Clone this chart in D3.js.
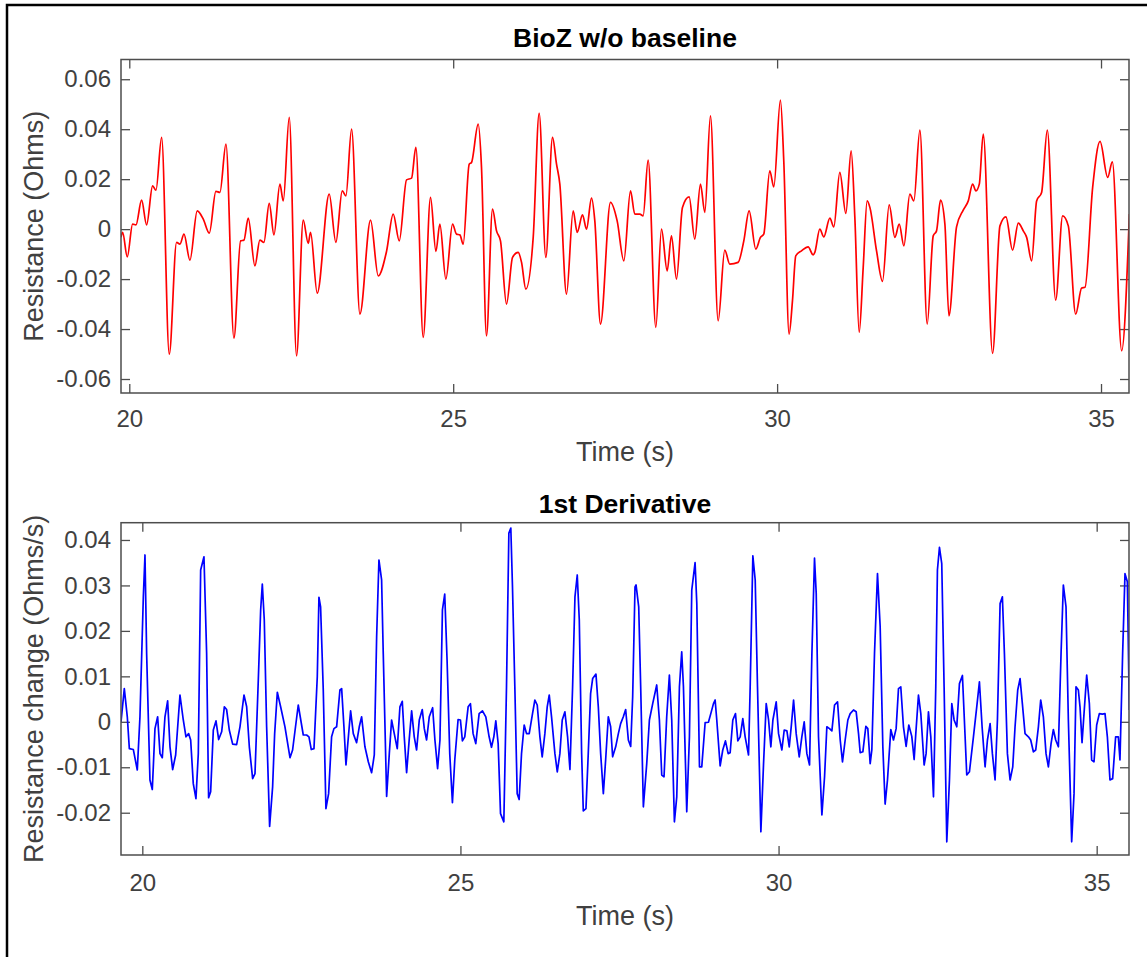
<!DOCTYPE html>
<html>
<head>
<meta charset="utf-8">
<script src="https://cdn.jsdelivr.net/npm/d3@7"></script>
<style>
  body { margin: 0; background: #fff; }
  svg text { font-family: "Liberation Sans", Arial, Helvetica, sans-serif; }
</style>
</head>
<body>
<svg id="chart" width="1147" height="957"></svg>
<script>
// BioZ with baseline removed: [time (s), resistance (Ohms)]
const bioz = [
  [19.872, -0.0033], [19.897, -0.0013], [19.969, -0.0111], [20.051, 0.0020], [20.103, 0.0017],
  [20.190, 0.0116], [20.267, 0.0017], [20.360, 0.0173], [20.412, 0.0156], [20.499, 0.0367],
  [20.617, -0.0500], [20.730, -0.0053], [20.782, -0.0060], [20.844, -0.0020], [20.936, -0.0124],
  [21.049, 0.0073], [21.142, 0.0040], [21.235, -0.0016], [21.337, 0.0151], [21.399, 0.0147],
  [21.492, 0.0340], [21.615, -0.0436], [21.718, -0.0047], [21.770, -0.0044], [21.836, 0.0044],
  [21.939, -0.0147], [22.016, -0.0044], [22.078, -0.0053], [22.160, 0.0103], [22.233, -0.0023],
  [22.325, 0.0180], [22.377, 0.0113], [22.469, 0.0447], [22.582, -0.0507], [22.685, 0.0036],
  [22.762, -0.0057], [22.798, -0.0013], [22.901, -0.0256], [23.086, 0.0140], [23.189, -0.0053],
  [23.287, 0.0153], [23.344, 0.0133], [23.431, 0.0400], [23.560, -0.0340], [23.724, 0.0036],
  [23.843, -0.0187], [23.971, -0.0089], [24.074, 0.0060], [24.167, -0.0047], [24.280, 0.0197],
  [24.357, 0.0204], [24.424, 0.0327], [24.537, -0.0433], [24.650, 0.0127], [24.733, -0.0089],
  [24.794, 0.0020], [24.887, -0.0200], [24.990, 0.0020], [25.051, -0.0020], [25.103, -0.0023],
  [25.154, -0.0060], [25.247, 0.0260], [25.283, 0.0267], [25.386, 0.0420], [25.437, 0.0247],
  [25.514, -0.0427], [25.607, 0.0080], [25.669, -0.0007], [25.730, -0.0047], [25.823, -0.0300],
  [25.916, -0.0113], [26.003, -0.0093], [26.055, -0.0133], [26.121, -0.0240], [26.235, -0.0033],
  [26.327, 0.0463], [26.430, -0.0113], [26.533, 0.0367], [26.595, 0.0260], [26.646, 0.0180],
  [26.749, -0.0260], [26.852, 0.0073], [26.914, -0.0013], [26.996, 0.0057], [27.058, 0.0000],
  [27.135, 0.0124], [27.186, 0.0033], [27.274, -0.0380], [27.428, 0.0107], [27.531, 0.0033],
  [27.634, -0.0127], [27.737, 0.0153], [27.803, 0.0060], [27.881, 0.0060], [27.932, 0.0053],
  [28.009, 0.0276], [28.128, -0.0393], [28.215, 0.0000], [28.303, -0.0167], [28.369, -0.0027],
  [28.447, -0.0200], [28.539, 0.0087], [28.642, 0.0129], [28.729, -0.0040], [28.817, 0.0180],
  [28.884, 0.0067], [28.971, 0.0453], [29.090, -0.0367], [29.192, -0.0084], [29.270, -0.0140],
  [29.398, -0.0133], [29.486, -0.0047], [29.568, 0.0073], [29.671, -0.0080], [29.743, -0.0033],
  [29.794, -0.0020], [29.887, 0.0233], [29.949, 0.0169], [30.051, 0.0516], [30.103, 0.0273],
  [30.185, -0.0420], [30.237, -0.0287], [30.288, -0.0107], [30.376, -0.0087], [30.479, -0.0071],
  [30.556, -0.0103], [30.582, -0.0093], [30.659, 0.0000], [30.721, -0.0031], [30.814, 0.0044],
  [30.875, 0.0009], [30.968, 0.0227], [31.061, 0.0063], [31.143, 0.0313], [31.200, 0.0047],
  [31.267, -0.0413], [31.329, -0.0153], [31.390, 0.0113], [31.432, 0.0087], [31.535, -0.0087],
  [31.627, -0.0209], [31.730, 0.0097], [31.818, -0.0033], [31.885, 0.0020], [31.957, -0.0067],
  [32.049, 0.0140], [32.111, 0.0113], [32.204, 0.0396], [32.317, -0.0380], [32.410, -0.0027],
  [32.461, -0.0007], [32.523, 0.0116], [32.590, 0.0020], [32.652, -0.0347], [32.770, 0.0009],
  [32.873, 0.0076], [32.951, 0.0113], [33.018, 0.0180], [33.069, 0.0153], [33.121, 0.0180],
  [33.182, 0.0380], [33.326, -0.0497], [33.440, 0.0013], [33.532, 0.0049], [33.635, -0.0084],
  [33.723, 0.0024], [33.800, -0.0007], [33.852, -0.0033], [33.929, -0.0127], [34.006, 0.0113],
  [34.083, 0.0147], [34.171, 0.0396], [34.300, -0.0284], [34.408, 0.0053], [34.495, 0.0013],
  [34.609, -0.0340], [34.701, -0.0236], [34.753, -0.0233], [34.871, 0.0167], [34.985, 0.0351],
  [35.103, 0.0207], [35.175, 0.0269], [35.319, -0.0487], [35.438, 0.0060]
];

// First derivative of the signal: [time (s), Ohms/s]
const deriv = [
  [19.665, 0.0000], [19.717, 0.0073], [19.764, 0.0011], [19.796, -0.0059], [19.859, -0.0061],
  [19.921, -0.0106], [19.963, 0.0011], [20.016, 0.0275], [20.042, 0.0367], [20.068, 0.0150],
  [20.120, -0.0128], [20.157, -0.0149], [20.199, -0.0015], [20.241, 0.0011], [20.278, -0.0070],
  [20.314, -0.0079], [20.356, 0.0011], [20.398, 0.0046], [20.435, -0.0055], [20.477, -0.0105],
  [20.524, -0.0073], [20.592, 0.0059], [20.644, 0.0004], [20.686, -0.0033], [20.728, -0.0026],
  [20.760, -0.0040], [20.801, -0.0136], [20.843, -0.0169], [20.880, -0.0070], [20.917, 0.0334],
  [20.969, 0.0363], [21.011, 0.0150], [21.042, -0.0167], [21.074, -0.0154], [21.116, -0.0018],
  [21.158, 0.0002], [21.200, -0.0039], [21.247, -0.0022], [21.289, 0.0033], [21.325, 0.0027],
  [21.367, -0.0018], [21.420, -0.0049], [21.482, -0.0050], [21.535, -0.0011], [21.598, 0.0059],
  [21.640, 0.0033], [21.682, -0.0055], [21.734, -0.0125], [21.771, -0.0114], [21.823, 0.0092],
  [21.860, 0.0246], [21.886, 0.0303], [21.917, 0.0224], [21.954, -0.0011], [22.001, -0.0230],
  [22.048, -0.0143], [22.080, -0.0026], [22.122, 0.0065], [22.174, 0.0033], [22.242, -0.0011],
  [22.321, -0.0079], [22.362, -0.0062], [22.451, 0.0037], [22.530, -0.0029], [22.582, -0.0029],
  [22.619, -0.0033], [22.656, -0.0061], [22.698, -0.0059], [22.750, 0.0099], [22.776, 0.0274],
  [22.802, 0.0253], [22.844, 0.0070], [22.886, -0.0191], [22.928, -0.0158], [22.975, -0.0033],
  [23.012, -0.0015], [23.054, -0.0011], [23.106, 0.0070], [23.133, 0.0073], [23.169, -0.0011],
  [23.201, -0.0095], [23.243, -0.0026], [23.274, 0.0024], [23.316, -0.0026], [23.368, -0.0046],
  [23.410, -0.0011], [23.447, 0.0011], [23.499, -0.0055], [23.552, -0.0088], [23.604, -0.0112],
  [23.646, -0.0073], [23.683, 0.0187], [23.719, 0.0356], [23.761, 0.0312], [23.787, 0.0150],
  [23.840, -0.0164], [23.882, -0.0070], [23.918, 0.0004], [23.960, -0.0026], [24.007, -0.0059],
  [24.049, 0.0033], [24.086, 0.0045], [24.117, -0.0033], [24.154, -0.0112], [24.196, -0.0037],
  [24.233, 0.0024], [24.274, -0.0033], [24.311, -0.0062], [24.353, 0.0004], [24.400, 0.0027],
  [24.432, -0.0015], [24.468, -0.0040], [24.510, 0.0011], [24.563, 0.0031], [24.599, -0.0040],
  [24.641, -0.0103], [24.678, -0.0040], [24.717, 0.0246], [24.753, 0.0281], [24.790, 0.0136],
  [24.832, -0.0070], [24.874, -0.0178], [24.911, -0.0084], [24.963, 0.0005], [25.000, 0.0004],
  [25.031, -0.0042], [25.068, -0.0033], [25.121, 0.0033], [25.157, 0.0040], [25.199, -0.0026],
  [25.241, -0.0048], [25.294, 0.0018], [25.346, 0.0024], [25.399, 0.0011], [25.451, -0.0033],
  [25.488, -0.0056], [25.525, -0.0033], [25.556, 0.0002], [25.593, -0.0048], [25.630, -0.0202],
  [25.682, -0.0220], [25.724, 0.0077], [25.761, 0.0415], [25.792, 0.0426], [25.818, 0.0297],
  [25.855, 0.0077], [25.892, -0.0158], [25.923, -0.0171], [25.960, -0.0070], [26.002, -0.0007],
  [26.039, -0.0026], [26.081, -0.0026], [26.133, 0.0018], [26.170, 0.0048], [26.207, 0.0037],
  [26.249, -0.0033], [26.285, -0.0077], [26.327, -0.0026], [26.364, 0.0033], [26.396, 0.0059],
  [26.432, 0.0011], [26.485, -0.0070], [26.522, -0.0110], [26.563, -0.0070], [26.600, 0.0004],
  [26.642, 0.0022], [26.684, -0.0033], [26.721, -0.0105], [26.763, 0.0077], [26.800, 0.0275],
  [26.836, 0.0323], [26.868, 0.0224], [26.905, -0.0070], [26.931, -0.0196], [26.973, -0.0191],
  [27.009, -0.0070], [27.046, 0.0062], [27.078, 0.0095], [27.130, 0.0105], [27.167, 0.0033],
  [27.204, -0.0070], [27.246, -0.0158], [27.282, -0.0084], [27.324, 0.0011], [27.361, -0.0011],
  [27.392, -0.0077], [27.440, -0.0055], [27.482, -0.0026], [27.518, -0.0004], [27.560, 0.0011],
  [27.597, 0.0027], [27.639, -0.0040], [27.676, -0.0054], [27.707, 0.0055], [27.744, 0.0297],
  [27.760, 0.0301], [27.802, 0.0253], [27.833, 0.0077], [27.875, -0.0187], [27.928, -0.0092],
  [27.970, 0.0004], [28.022, 0.0040], [28.085, 0.0081], [28.127, 0.0004], [28.164, -0.0117],
  [28.200, -0.0121], [28.242, 0.0011], [28.284, 0.0103], [28.321, 0.0004], [28.363, -0.0220],
  [28.400, -0.0165], [28.442, 0.0077], [28.478, 0.0154], [28.505, 0.0077], [28.557, -0.0198],
  [28.599, -0.0033], [28.636, 0.0290], [28.688, 0.0350], [28.715, 0.0260], [28.757, -0.0099],
  [28.793, -0.0099], [28.846, -0.0002], [28.898, -0.0001], [28.935, 0.0018], [28.977, 0.0040],
  [29.003, 0.0048], [29.029, 0.0004], [29.082, -0.0097], [29.123, -0.0062], [29.165, -0.0042],
  [29.208, -0.0070], [29.239, -0.0068], [29.281, 0.0004], [29.323, 0.0018], [29.360, -0.0042],
  [29.397, -0.0033], [29.438, 0.0007], [29.475, -0.0033], [29.528, -0.0073], [29.554, 0.0077],
  [29.596, 0.0365], [29.633, 0.0312], [29.669, 0.0077], [29.722, -0.0242], [29.764, -0.0092],
  [29.806, 0.0040], [29.843, 0.0004], [29.879, -0.0055], [29.911, 0.0004], [29.963, 0.0044],
  [30.000, -0.0026], [30.052, -0.0062], [30.089, -0.0018], [30.131, -0.0020], [30.168, -0.0055],
  [30.199, -0.0011], [30.236, 0.0048], [30.277, -0.0026], [30.325, -0.0077], [30.366, -0.0033],
  [30.403, 0.0000], [30.445, -0.0070], [30.487, -0.0095], [30.524, 0.0150], [30.565, 0.0360],
  [30.592, 0.0282], [30.628, -0.0033], [30.681, -0.0205], [30.723, -0.0121], [30.759, -0.0011],
  [30.801, -0.0015], [30.838, -0.0020], [30.880, 0.0037], [30.927, 0.0044], [30.969, -0.0040],
  [31.005, -0.0088], [31.047, -0.0040], [31.089, 0.0004], [31.126, 0.0018], [31.178, 0.0026],
  [31.220, 0.0022], [31.257, -0.0026], [31.283, -0.0068], [31.325, -0.0066], [31.372, -0.0010],
  [31.403, -0.0015], [31.440, -0.0092], [31.466, -0.0062], [31.508, 0.0150], [31.555, 0.0326],
  [31.597, 0.0209], [31.639, -0.0055], [31.675, -0.0181], [31.712, -0.0128], [31.764, -0.0017],
  [31.806, -0.0040], [31.848, -0.0015], [31.885, 0.0073], [31.921, 0.0077], [31.963, -0.0011],
  [32.005, -0.0054], [32.047, -0.0007], [32.094, -0.0032], [32.131, -0.0083], [32.157, -0.0026],
  [32.199, 0.0059], [32.236, 0.0018], [32.288, -0.0095], [32.319, -0.0070], [32.356, 0.0022],
  [32.393, -0.0033], [32.435, -0.0165], [32.471, 0.0077], [32.497, 0.0334], [32.529, 0.0384],
  [32.565, 0.0348], [32.602, 0.0077], [32.644, -0.0264], [32.686, -0.0128], [32.723, 0.0040],
  [32.759, 0.0004], [32.801, -0.0011], [32.843, 0.0084], [32.890, 0.0102], [32.932, -0.0033],
  [32.958, -0.0117], [33.000, -0.0110], [33.063, -0.0033], [33.115, 0.0033], [33.157, 0.0088],
  [33.199, -0.0011], [33.246, -0.0099], [33.283, -0.0040], [33.325, -0.0004], [33.361, -0.0070],
  [33.403, -0.0128], [33.440, 0.0004], [33.482, 0.0260], [33.518, 0.0275], [33.550, 0.0150],
  [33.597, -0.0070], [33.639, -0.0128], [33.681, -0.0099], [33.717, -0.0011], [33.759, 0.0070],
  [33.796, 0.0095], [33.832, 0.0040], [33.874, -0.0026], [33.927, -0.0033], [33.963, -0.0040],
  [34.005, -0.0066], [34.042, -0.0062], [34.084, -0.0011], [34.120, 0.0048], [34.162, 0.0011],
  [34.204, -0.0070], [34.241, -0.0099], [34.283, -0.0048], [34.319, -0.0017], [34.356, -0.0040],
  [34.398, -0.0055], [34.440, 0.0150], [34.476, 0.0301], [34.518, 0.0253], [34.555, 0.0004],
  [34.607, -0.0264], [34.644, -0.0158], [34.675, 0.0077], [34.712, 0.0070], [34.738, 0.0033],
  [34.770, -0.0046], [34.801, 0.0018], [34.843, 0.0103], [34.885, 0.0040], [34.921, -0.0084],
  [34.958, -0.0088], [35.000, -0.0007], [35.042, 0.0018], [35.089, 0.0017], [35.131, 0.0018],
  [35.168, -0.0033], [35.209, -0.0128], [35.251, -0.0125], [35.298, -0.0033], [35.340, -0.0033],
  [35.366, -0.0084], [35.408, 0.0150], [35.445, 0.0326], [35.482, 0.0308], [35.513, 0.0026]
];

// Tick values
const timeTicks = [20, 25, 30, 35];
const biozTicks = [-0.06, -0.04, -0.02, 0, 0.02, 0.04, 0.06];
const derivTicks = [-0.02, -0.01, 0, 0.01, 0.02, 0.03, 0.04];

const TICK = 9;
const AXIS_COLOR = '#4d4d4d';
const TEXT_COLOR = '#404040';

const svg = d3.select('#chart');

// figure frame (only its top and left edges fall inside the picture)
svg.append('rect')
  .attr('x', 7).attr('y', 5)
  .attr('width', 1200).attr('height', 1000)
  .attr('fill', 'none').attr('stroke', '#000').attr('stroke-width', 2.5);

const panels = [
  {
    id: 'bioz', data: bioz, color: '#ff0000', curve: d3.curveMonotoneX,
    title: 'BioZ w/o baseline', ylabel: 'Resistance (Ohms)',
    box: { left: 121, right: 1129, top: 59.5, bottom: 393 },
    xDomain: [19.872, 35.432], yDomain: [-0.0656, 0.0679], yTicks: biozTicks,
    xTickPad: 17, xLabelGap: 68, titleGap: 13
  },
  {
    id: 'deriv', data: deriv, color: '#0000ff', curve: d3.curveLinear,
    title: '1st Derivative', ylabel: 'Resistance change (Ohms/s)',
    box: { left: 121, right: 1129, top: 522.7, bottom: 855 },
    xDomain: [19.665, 35.508], yDomain: [-0.0293, 0.0438], yTicks: derivTicks,
    xTickPad: 19, xLabelGap: 70, titleGap: 10
  }
];

const fmt = d => d === 0 ? '0' : d.toFixed(2);

function styleAxis(g) {
  g.select('.domain').remove();
  g.selectAll('.tick line').attr('stroke', AXIS_COLOR).attr('stroke-width', 1.3);
  g.selectAll('.tick text').attr('fill', TEXT_COLOR).style('font-size', '24px');
}

panels.forEach(p => {
  const b = p.box;
  const w = b.right - b.left, h = b.bottom - b.top;
  const x = d3.scaleLinear().domain(p.xDomain).range([0, w]);
  const y = d3.scaleLinear().domain(p.yDomain).range([h, 0]);

  const g = svg.append('g').attr('transform', `translate(${b.left},${b.top})`);

  // clip the trace to the axes box
  g.append('clipPath').attr('id', `clip-${p.id}`)
    .append('rect').attr('width', w).attr('height', h);

  // ticks point inward on all four sides
  g.append('g').attr('transform', `translate(0,${h})`)
    .call(d3.axisBottom(x).tickValues(timeTicks).tickSizeInner(-TICK).tickSizeOuter(0)
      .tickPadding(p.xTickPad).tickFormat(d3.format('d')))
    .call(styleAxis);
  g.append('g')
    .call(d3.axisTop(x).tickValues(timeTicks).tickSizeInner(-TICK).tickSizeOuter(0).tickFormat(''))
    .call(styleAxis);
  g.append('g')
    .call(d3.axisLeft(y).tickValues(p.yTicks).tickSizeInner(-TICK).tickSizeOuter(0)
      .tickPadding(10).tickFormat(fmt))
    .call(styleAxis);
  g.append('g').attr('transform', `translate(${w},0)`)
    .call(d3.axisRight(y).tickValues(p.yTicks).tickSizeInner(-TICK).tickSizeOuter(0).tickFormat(''))
    .call(styleAxis);

  // signal
  const line = d3.line().x(d => x(d[0])).y(d => y(d[1])).curve(p.curve);
  g.append('path')
    .datum(p.data)
    .attr('clip-path', `url(#clip-${p.id})`)
    .attr('d', line)
    .attr('fill', 'none')
    .attr('stroke', p.color)
    .attr('stroke-width', 1.7)
    .attr('stroke-linejoin', 'round');

  // axes box
  g.append('rect').attr('width', w).attr('height', h)
    .attr('fill', 'none').attr('stroke', AXIS_COLOR).attr('stroke-width', 1.5);

  // title and labels
  g.append('text')
    .attr('x', w / 2).attr('y', -p.titleGap)
    .attr('text-anchor', 'middle')
    .style('font-size', '26.5px').style('font-weight', 'bold')
    .attr('fill', '#000')
    .text(p.title);

  g.append('text')
    .attr('x', w / 2).attr('y', h + p.xLabelGap)
    .attr('text-anchor', 'middle')
    .style('font-size', '27px')
    .attr('fill', TEXT_COLOR)
    .text('Time (s)');

  g.append('text')
    .attr('transform', `translate(${43 - b.left},${h / 2}) rotate(-90)`)
    .attr('text-anchor', 'middle')
    .style('font-size', '27px')
    .attr('fill', TEXT_COLOR)
    .text(p.ylabel);
});
</script>
</body>
</html>
